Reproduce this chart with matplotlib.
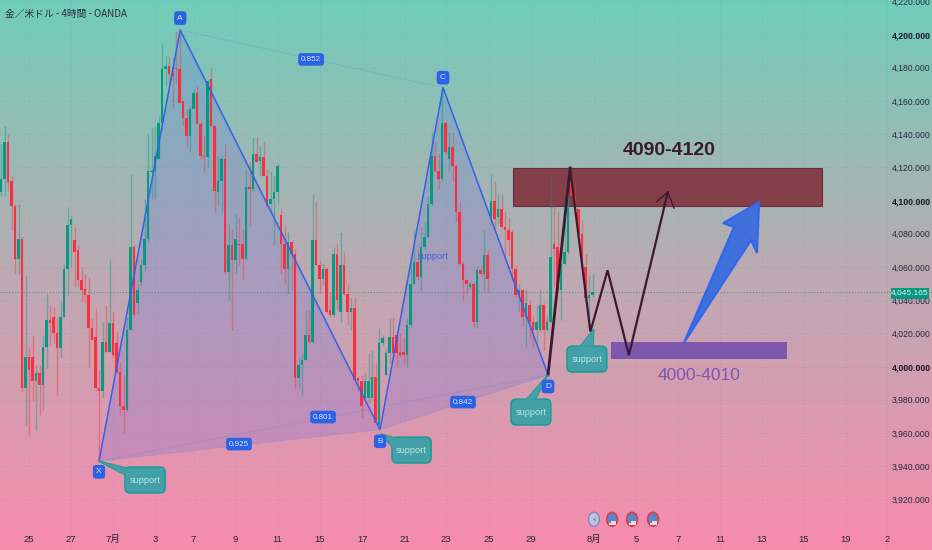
import numpy as np
import matplotlib
matplotlib.use('Agg')
import matplotlib.pyplot as plt
from matplotlib.colors import LinearSegmentedColormap
from matplotlib.patches import FancyBboxPatch, Polygon, Rectangle, Ellipse

# 4h candles
opens = [4105,4113,4135,4112,4097,4065,4077,3987,4006,4006,3991,3996,3989,4012,4028,4030,4020,4011,4030,4059,
         4085,4076,4070,4052,4047,4043,4023,4018,3987,3985,4015,4009,4026,4014,3997,3976,3974,4022,4072,4038,
         4051,4061,4077,4117,4118,4125,4147,4179,4181,4177,4180,4179,4160,4150,4139,4155,4165,4146,4127,4126,
         4173,4145,4105,4112,4125,4057,4073,4064,4074,4074,4065,4108,4107,4128,4124,4126,4115,4098,4101,4105,
         4091,4074,4059,4075,4068,3993,4001,4004,4019,4015,4076,4061,4053,4059,4034,4031,4068,4033,4061,4044,
         4033,4035,3993,3991,3981,3981,3981,3994,3965,4014,3995,4008,4018,4019,4009,4009,4007,4025,4050,4063,
         4054,4072,4078,4098,4127,4118,4113,4147,4125,4132,4121,4093,4062,4052,4048,4050,4027,4058,4056,4067,
         4090,4100,4090,4095,4084,4082,4081,4059,4043,4046,4030,4037,4027,4022,4022,4037,4022,4027,4074,4072,
         4046,4062,4069,4111,4103,4095,4080,4060,4041,4043]
highs = [4134,4145,4140,4115,4098,4098,4078,4055,4011,4019,4001,4001,4019,4044,4037,4036,4029,4039,4062,4096,
         4091,4084,4073,4060,4056,4054,4029,4035,3998,4027,4037,4064,4033,4021,4003,3995,4029,4116,4073,4050,
         4065,4101,4140,4144,4144,4151,4195,4187,4187,4186,4202,4204,4160,4155,4157,4167,4169,4148,4139,4173,
         4180,4145,4127,4127,4134,4086,4083,4092,4090,4083,4119,4123,4138,4138,4133,4135,4119,4118,4115,4122,
         4095,4085,4081,4076,4071,4006,4008,4034,4034,4104,4100,4064,4062,4060,4045,4072,4074,4081,4069,4050,
         4042,4042,3994,3995,3996,4008,4010,4002,4023,4019,4011,4029,4030,4020,4020,4018,4029,4065,4083,4071,
         4084,4087,4103,4141,4136,4128,4168,4148,4141,4141,4122,4100,4063,4053,4051,4051,4060,4060,4082,4070,
         4116,4112,4104,4104,4094,4090,4082,4061,4050,4046,4047,4040,4031,4037,4047,4038,4031,4116,4098,4094,
         4078,4098,4120,4115,4110,4095,4088,4068,4055,4056]
lows = [4103,4103,4106,4082,4056,4056,3985,3965,3959,3979,3962,3971,3974,3999,4013,4014,3983,4005,4030,4043,
        4060,4048,4048,4039,4038,4000,4016,3985,3944,3981,4009,4009,4006,3996,3971,3960,3973,4022,4030,4032,
        4049,4058,4075,4101,4101,4125,4142,4169,4170,4156,4171,4159,4145,4132,4129,4155,4146,4125,4117,4120,
        4145,4093,4097,4093,4056,4040,4022,4056,4061,4052,4064,4085,4106,4123,4115,4115,4096,4093,4073,4098,
        4056,4050,4044,4046,3987,3987,3983,4004,4014,4014,4061,4044,4049,4032,4030,4030,4034,4027,4043,4025,
        4022,3991,3985,3969,3980,3978,3980,3965,3962,4013,3995,4002,4004,4000,4006,4001,4000,4024,4049,4052,
        4046,4071,4078,4097,4117,4107,4112,4128,4118,4112,4087,4061,4040,4044,4047,4024,4023,4055,4046,4045,
        4085,4083,4086,4083,4066,4067,4052,4042,4033,4025,4012,4017,4012,4015,4021,4010,4021,4026,4048,4045,
        4028,4061,4068,4102,4094,4079,4059,4040,4024,4042]
closes = [4113,4135,4111,4097,4065,4077,3987,4006,3998,3991,3996,3989,4012,4028,4026,4020,4011,4030,4059,4085,
          4089,4069,4052,4046,4043,4023,4016,3987,3985,4015,4009,4026,4007,3997,3976,3974,4022,4072,4031,4046,
          4061,4077,4118,4118,4127,4147,4179,4181,4176,4175,4179,4159,4150,4139,4155,4165,4146,4127,4126,4172,
          4145,4106,4112,4125,4057,4073,4064,4077,4073,4065,4108,4107,4128,4123,4126,4115,4097,4101,4105,4121,
          4074,4059,4075,4068,3993,4001,4004,4019,4015,4076,4061,4053,4059,4033,4031,4068,4040,4061,4044,4033,
          4035,3992,3991,3976,3991,3991,3994,3966,4014,4017,4008,4018,4008,4008,4007,4007,4025,4050,4063,4054,
          4072,4078,4098,4127,4118,4113,4147,4129,4132,4121,4093,4062,4052,4050,4050,4027,4058,4056,4067,4053,
          4100,4089,4095,4084,4082,4076,4059,4043,4046,4030,4038,4027,4022,4027,4037,4022,4027,4066,4071,4046,
          4062,4069,4111,4103,4095,4080,4060,4041,4043,4045]

last_price = 4045.165

x_tick_pos = [8, 20, 32, 44, 55, 67, 79, 91.1, 103.4, 115.4, 127.1, 139.4, 151.4,
              169.4, 181.4, 193.4, 205.4, 217.4, 229.4, 241.4, 253.1]
x_tick_labels = ['25', '27', '7月', '3', '7', '9', '11', '15', '17', '21', '23', '25', '29',
                 '8月', '5', '7', '11', '13', '15', '19', '2']
y_ticks = list(range(3920, 4221, 20))

# XABCD pattern
pat_x = [28, 51.2, 108.3, 126.3, 156.3]
pat_y = [3943, 4202.7, 3962, 4168, 3995]
pat_names = ['X', 'A', 'B', 'C', 'D']
name_x = [28, 51.2, 108.3, 126.3, 156.3]
name_y = [3936.6, 4209.9, 3955, 4174, 3988]
ratio_text = ['0.852', '0.925', '0.801', '0.842']
ratio_x = [88.6, 68, 92, 132]
ratio_y = [4185, 3953.3, 3969.6, 3978.6]

# drawn forecast path
path_x = [156.3, 162.6, 168.4, 173.3, 179.4, 190.5]
path_y = [3995, 4119.6, 4021, 4058, 4006.9, 4105]
barb_x = [187.4, 190.5, 192.3]
barb_y = [4099.5, 4105, 4095.5]

arrow_x = [195.1, 209.4, 206.3, 216.6, 216, 214.3]
arrow_y = [4014.2, 4084, 4086.4, 4099, 4068.4, 4076.2]

# support callouts: box x0,x1,y0,y1 then tip and two base points
callouts = [
    [35.4, 46.9, 3923.8, 3939.5, (28, 3943), (35.6, 3939), (35.6, 3934.6)],
    [111.7, 122.9, 3941.9, 3957.5, (108.6, 3959.3), (112.6, 3957), (112, 3951)],
    [145.7, 157.1, 3964.8, 3980.4, (156.3, 3995), (150, 3980), (152.6, 3980)],
    [161.7, 173.1, 3996.7, 4012.3, (169.4, 4022.6), (165.4, 4012), (169.1, 4012)],
]

sans = ['Liberation Sans', 'Noto Sans CJK JP', 'DejaVu Sans']
jp = ['Noto Sans CJK JP', 'DejaVu Sans']
plt.rcParams['font.family'] = sans

fig = plt.figure(figsize=(9.32, 5.5), dpi=100)
ax = fig.add_axes([0, 0, 1, 1])

# background gradient
bg = LinearSegmentedColormap.from_list('bg', ['#70cdb9', '#bcaab2', '#f78bae'])
ax.imshow(np.linspace(0, 1, 256).reshape(-1, 1), cmap=bg, aspect='auto',
          extent=(0, 1, 0, 1), transform=ax.transAxes, zorder=0)

ax.set_xlim(-0.286, 266)
ax.set_ylim(3889.5, 4220.8)
for s in ax.spines.values():
    s.set_visible(False)

ax.set_xticks(x_tick_pos)
ax.set_xticklabels(x_tick_labels, family=sans)
ax.tick_params(axis='x', length=0, pad=-11, labelsize=6.8, colors='#2a2438')
ax.yaxis.tick_right()
ax.set_yticks(y_ticks)
ax.set_yticklabels([f'{v:,}.000' for v in y_ticks])
ax.tick_params(axis='y', length=0, pad=-28.8, labelsize=6.2, colors='#2a2840')
for lab, v in zip(ax.get_yticklabels(), y_ticks):
    if v in (4000, 4100, 4200):
        lab.set_fontweight('bold')
        lab.set_color('#14142a')
ax.grid(True, color='#3d6e70', alpha=0.2, lw=0.6, ls=(0, (1, 3)), zorder=1)

# harmonic pattern fill and legs
ax.add_patch(Polygon(list(zip(pat_x[:3], pat_y[:3])), closed=True, fc='#5a63e6', alpha=0.2, ec='none', zorder=2))
ax.add_patch(Polygon(list(zip(pat_x[2:], pat_y[2:])), closed=True, fc='#5a63e6', alpha=0.2, ec='none', zorder=2))

# zones
ax.add_patch(Rectangle((146.3, 4096.7), 88.3, 22.9, fc='#853f48', ec='#6e2a45', lw=0.8, zorder=2.5))
ax.add_patch(Rectangle((174.3, 4004.5), 50.3, 10.3, fc='#7c57ac', ec='none', zorder=2.5))

# candles
opens_a, closes_a = np.array(opens), np.array(closes)
idx = np.arange(len(opens))
up = closes_a >= opens_a
colors = np.where(up, '#089981', '#f8303f')
ax.vlines(idx, lows, highs, colors=colors, lw=1, alpha=0.42, zorder=3)
ax.bar(idx, np.maximum(np.abs(closes_a - opens_a), 1), bottom=np.minimum(opens_a, closes_a),
       width=0.8, color=colors, lw=0, zorder=3.2)

ax.axhline(last_price, color='#1c8f80', lw=0.7, ls=(0, (1, 2)), alpha=0.8, zorder=2.8)

# legs
ax.plot(pat_x, pat_y, color='#3560e8', lw=1.1, zorder=4)
for i, j in [(0, 2), (1, 3), (2, 4), (0, 4)]:
    ax.plot([pat_x[i], pat_x[j]], [pat_y[i], pat_y[j]], color='#5c8fd8', lw=0.8, alpha=0.5, ls=(0, (1, 1)), zorder=4)

# forecast path
ax.plot(path_x[:2], path_y[:2], color='#3b1a30', lw=2, zorder=5, solid_joinstyle='miter')
ax.plot(path_x[1:], path_y[1:], color='#3b1a30', lw=1.6, zorder=5, solid_joinstyle='miter')
ax.plot(barb_x, barb_y, color='#3b1a30', lw=1, zorder=5)

# big blue arrow
ax.add_patch(Polygon(list(zip(arrow_x, arrow_y)), closed=True, fc='#4070dc', ec='#2f68f0', lw=1.5, zorder=5))

# callouts
asp = 3.5 / 1.66
for x0, x1, y0, y1, tip, b1, b2 in callouts:
    ax.add_patch(Polygon([tip, b1, b2], closed=True, fc='#43a0a8', ec='#139c8c', lw=1, zorder=6))
    ax.add_patch(FancyBboxPatch((x0, y0), x1 - x0, y1 - y0, boxstyle='round,pad=0,rounding_size=1.5',
                                mutation_aspect=asp, fc='#43a0a8', ec='#139c8c', lw=1, zorder=6.1))
    ax.add_patch(Polygon([tip, b1, b2], closed=True, fc='#43a0a8', ec='none', zorder=6.2))
    ax.text((x0 + x1) / 2, (y0 + y1) / 2, 'support', color='#bfe6e2', fontsize=6.6, ha='center', va='center', zorder=7)

# blue labels
for t, x, y in zip(pat_names, name_x, name_y):
    ax.text(x, y, t, color='#d8e4ff', fontsize=6, ha='center', va='center', zorder=8,
            bbox=dict(boxstyle='round,pad=0.4', fc='#2c62e6', ec='none'))
for t, x, y in zip(ratio_text, ratio_x, ratio_y):
    ax.text(x, y, t, color='#d8e4ff', fontsize=5.8, ha='center', va='center', zorder=8,
            bbox=dict(boxstyle='round,pad=0.35', fc='#2c62e6', ec='none'))

ax.text(123.6, 4066.5, 'support', color='#3a62d8', fontsize=6.6, ha='center', va='center', zorder=7)

# zone captions
ax.text(191, 4130, '4090-4120', color='#3b1a30', fontsize=14, fontweight='bold', ha='center', va='center', zorder=7)
ax.text(199.5, 3994.5, '4000-4010', color='#7e57b0', fontsize=12.5, ha='center', va='center', zorder=7)

# last price tag
ax.add_patch(Rectangle((254.2, 4040.4), 10.9, 7.2, fc='#089981', ec='none', zorder=8))
ax.text(259.6, last_price - 0.3, f'{last_price:,.3f}', color='#e4f5f0', fontsize=6, ha='center', va='center', zorder=9)

# event icons along the bottom
for i, ix in enumerate([169.4, 174.6, 180.3, 186.3]):
    if i == 0:
        ax.add_patch(Ellipse((ix, 3908), 3.1, 8.4, fc='#b8c8d8', ec='#8a7fc0', lw=1, zorder=8))
        ax.text(ix, 3908, '⚡', color='#7a5fc0', fontsize=5.5, ha='center', va='center', zorder=9, family=['DejaVu Sans'])
    else:
        ax.add_patch(Ellipse((ix, 3908), 3.1, 8.4, fc='#5a86c8', ec='#e03848', lw=1.1, zorder=8))
        ax.add_patch(Rectangle((ix - 0.2, 3906), 1.2, 1, fc='#f0d8d8', ec='none', zorder=9))
        ax.add_patch(Rectangle((ix - 1, 3904.5), 2.2, 1, fc='#f0d8d8', ec='none', zorder=9))

# title
ax.text(1.1, 4212.6, '金／米ドル - 4時間 - OANDA', family=jp, color='#2a2e39', fontsize=7, ha='left', va='center', zorder=9)

fig.savefig('out.png', dpi=100)
